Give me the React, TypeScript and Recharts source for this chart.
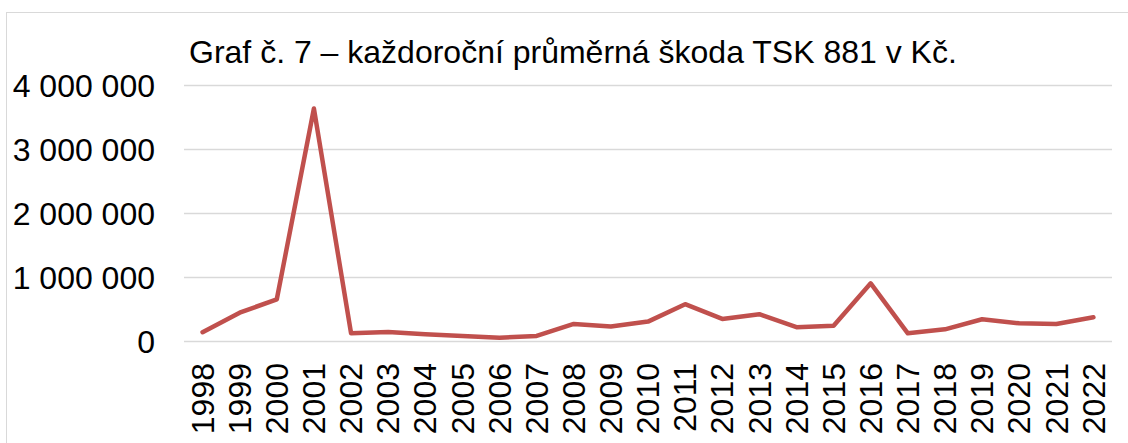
import React from "react";
import { LineChart, Line, XAxis, YAxis, CartesianGrid } from "recharts";

const years = ["1998","1999","2000","2001","2002","2003","2004","2005","2006","2007","2008","2009","2010","2011","2012","2013","2014","2015","2016","2017","2018","2019","2020","2021","2022"];
const damage = [145000,450000,660000,3640000,130000,150000,112000,86000,58000,87000,275000,233000,311000,583000,353000,426000,223000,247000,909000,128000,190000,347000,284000,273000,378000];
const yTicks = [0, 1000000, 2000000, 3000000, 4000000];
const title = "Graf č. 7 – každoroční průměrná škoda TSK 881 v Kč.";

const data = years.map((y, i) => ({ year: y, value: damage[i] }));

const FONT = "'Liberation Sans', Arial, sans-serif";

const fmt = (v: number) => {
  if (v === 0) return "0";
  return v.toString().replace(/\B(?=(\d{3})+(?!\d))/g, " ");
};

const YearTick = (props: any) => {
  const { x, y, payload } = props;
  const ay = y + 21.5;
  return (
    <text
      x={x}
      y={ay}
      dy="0.35em"
      transform={`rotate(-90, ${x}, ${ay})`}
      textAnchor="end"
      fontFamily={FONT}
      fontSize={32}
      fill="#000"
    >
      {payload.value}
    </text>
  );
};

export default function App() {
  return (
    <div style={{ position: "absolute", left: 0, top: 0, width: 1128, height: 443, overflow: "hidden", background: "#fff" }}>
      <div style={{ position: "absolute", left: 6, top: 12, width: 1140, height: 500, border: "1px solid #d9d9d9", boxSizing: "border-box" }} />
      <LineChart
        width={1128}
        height={443}
        data={data}
        margin={{ top: 85.5, right: 16, bottom: 0, left: 0 }}
        style={{ position: "absolute", left: 0, top: 0 }}
      >
        <CartesianGrid vertical={false} stroke="#d9d9d9" strokeWidth={1.3} />
        <XAxis
          dataKey="year"
          axisLine={false}
          tickLine={false}
          tickSize={0}
          tickMargin={0}
          height={101.5}
          interval={0}
          padding={{ left: 18.56, right: 18.56 }}
          tick={<YearTick />}
        />
        <YAxis
          width={184}
          domain={[0, 4000000]}
          ticks={yTicks}
          axisLine={false}
          tickLine={false}
          tickSize={6}
          tickMargin={23}
          tickFormatter={fmt}
          tick={{ fontFamily: FONT, fontSize: 32, fill: "#000" }}
        />
        <Line
          type="linear"
          dataKey="value"
          stroke="#c0504d"
          strokeWidth={4.5}
          strokeLinecap="round"
          strokeLinejoin="round"
          dot={false}
          activeDot={false}
          isAnimationActive={false}
        />
      </LineChart>
      <svg width={1128} height={443} style={{ position: "absolute", left: 0, top: 0, pointerEvents: "none" }}>
        <text x={189} y={63} fontFamily={FONT} fontSize={32} fill="#000">{title}</text>
      </svg>
    </div>
  );
}
